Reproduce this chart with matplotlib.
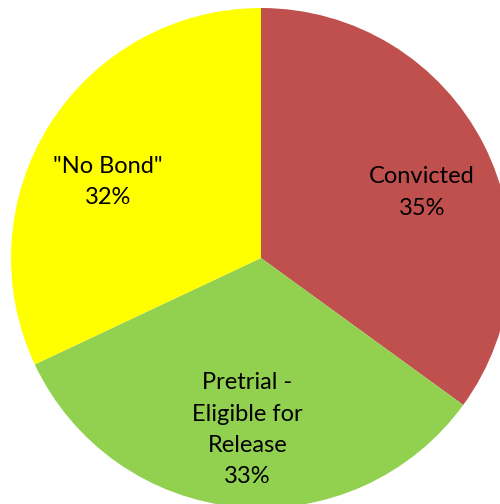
import matplotlib.pyplot as plt

# bond status breakdown
labels = ['Convicted', 'Pretrial -\nEligible for\nRelease', '"No Bond"']
shares = [35, 33, 32]
colors = ['#C0504D', '#92D050', '#FFFF00']

plt.rcParams['font.family'] = ['Lato', 'DejaVu Sans']

fig = plt.figure(figsize=(5.0, 5.04), dpi=100)
# the pie runs past the right and bottom edges of the figure
ax = fig.add_axes([11 / 500, -4 / 504, 500 / 500, 500 / 504])

names = iter(labels)
wedges, _, autotexts = ax.pie(
    shares, colors=colors, startangle=90, counterclock=False,
    autopct=lambda p: f'{next(names)}\n{p:.0f}%', pctdistance=0.7,
    textprops=dict(fontsize=17, color='black', linespacing=1.6),
    wedgeprops=dict(linewidth=0))

# small nudges so the labels sit lower in their slices
nudges = [(0.02, -0.056), (0.012, 0.01), (-0.02, -0.07)]
for t, (dx, dy) in zip(autotexts, nudges):
    x, y = t.get_position()
    t.set_position((x + dx, y + dy))

ax.set_xlim(-1, 1)
ax.set_ylim(-1, 1)
ax.set_aspect('equal')
ax.axis('off')

fig.savefig('out.png', dpi=100)
